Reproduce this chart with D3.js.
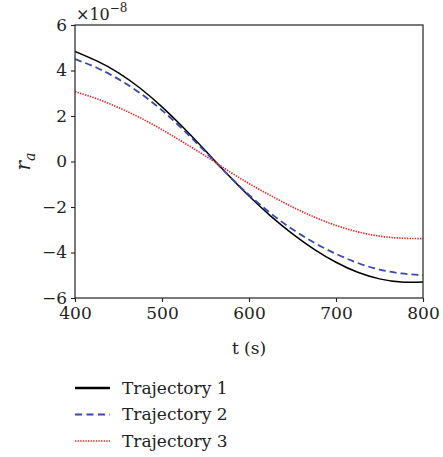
<!DOCTYPE html>
<html>
<head>
<meta charset="utf-8">
<script src="https://cdn.jsdelivr.net/npm/d3@7"></script>
<style>
  body { margin: 0; background: #fff; }
  svg text { fill: #222; }
</style>
</head>
<body>
<div id="chart"></div>
<script>
// time axis (s)
const times = [400, 425, 450, 475, 500, 525, 550, 575, 600, 625, 650, 675, 700, 725, 750, 775, 800];
// r_a values in units of 1e-8
const traj1 = [4.84, 4.42, 3.9, 3.22, 2.4, 1.47, 0.47, -0.55, -1.52, -2.4, -3.18, -3.86, -4.43, -4.87, -5.16, -5.3, -5.3];
const traj2 = [4.5, 4.12, 3.62, 3.0, 2.25, 1.37, 0.42, -0.55, -1.47, -2.28, -2.98, -3.57, -4.06, -4.46, -4.75, -4.92, -4.99];
const traj3 = [3.07, 2.76, 2.37, 1.92, 1.4, 0.83, 0.24, -0.38, -0.97, -1.5, -2.0, -2.44, -2.81, -3.09, -3.28, -3.37, -3.39];
const seriesNames = ['Trajectory 1', 'Trajectory 2', 'Trajectory 3'];
const xTicks = [400, 500, 600, 700, 800];
const yTicks = [-6, -4, -2, 0, 2, 4, 6];

const serif = '"DejaVu Serif", serif';

const config = {
  width: 443, height: 457,
  margin: {top: 25, right: 20, bottom: 159, left: 75}
};

const styles = [
  {color: '#000000', width: 1.5, dash: null, legendWidth: 2.6, legendDash: null},
  {color: '#3a47b3', width: 1.8, dash: '7,4', legendWidth: 2, legendDash: '7,4.5'},
  {color: '#e8231f', width: 1.6, dash: '1.4,1.2', legendWidth: 1.6, legendDash: '1.4,1.2'}
];

const innerW = config.width - config.margin.left - config.margin.right;
const innerH = config.height - config.margin.top - config.margin.bottom;

const svg = d3.select('#chart').append('svg')
    .attr('width', config.width)
    .attr('height', config.height)
    .attr('font-family', serif);

const chart = svg.append('g')
    .attr('transform', `translate(${config.margin.left},${config.margin.top})`);

const x = d3.scaleLinear().domain([400, 800]).range([0, innerW]);
const y = d3.scaleLinear().domain([-6, 6]).range([innerH, 0]);

const series = [traj1, traj2, traj3].map((vals, i) => ({
  name: seriesNames[i],
  values: vals.map((v, j) => ({t: times[j], v: v}))
}));

const line = d3.line()
    .x(d => x(d.t))
    .y(d => y(d.v))
    .curve(d3.curveNatural);

chart.append('defs').append('clipPath').attr('id', 'clip')
  .append('rect').attr('width', innerW).attr('height', innerH);

chart.append('g').attr('clip-path', 'url(#clip)')
  .selectAll('.series')
    .data(series)
  .join('path')
    .attr('class', 'series')
    .attr('fill', 'none')
    .attr('d', d => line(d.values))
    .attr('stroke', (d, i) => styles[i].color)
    .attr('stroke-width', (d, i) => styles[i].width)
    .attr('stroke-dasharray', (d, i) => styles[i].dash);

// axes
const xAxis = chart.append('g')
    .attr('transform', `translate(0,${innerH})`)
    .call(d3.axisBottom(x).tickValues(xTicks).tickSize(4).tickPadding(5).tickFormat(d3.format('d')));
const yAxis = chart.append('g')
    .call(d3.axisLeft(y).tickValues(yTicks).tickSize(4).tickPadding(4).tickFormat(d3.format('d')));

[xAxis, yAxis].forEach(ax => {
  ax.attr('font-family', serif).attr('font-size', 17);
  ax.select('.domain').remove();
  ax.selectAll('line').attr('stroke', '#222').attr('stroke-width', 1.1);
  ax.selectAll('text').attr('fill', '#222');
});
yAxis.selectAll('text').attr('dy', '0.3em');

// frame
chart.append('rect')
    .attr('width', innerW)
    .attr('height', innerH)
    .attr('fill', 'none')
    .attr('stroke', '#222')
    .attr('stroke-width', 1.2);

// exponent label
const expo = svg.append('text')
    .attr('x', config.margin.left + 1)
    .attr('y', 20)
    .attr('font-size', 16);
expo.append('tspan').text('×10');
expo.append('tspan').attr('dy', -8).attr('font-size', 12).text('−8');

// axis titles
const yLab = svg.append('text')
    .attr('transform', `translate(30,${config.margin.top + innerH / 2}) rotate(-90)`)
    .attr('text-anchor', 'middle')
    .attr('font-size', 20)
    .attr('font-style', 'italic');
yLab.append('tspan').text('r');
yLab.append('tspan').attr('dy', 5).attr('font-size', 14).text('a');

svg.append('text')
    .attr('x', config.margin.left + innerW / 2)
    .attr('y', 354)
    .attr('text-anchor', 'middle')
    .attr('font-size', 17)
    .text('t (s)');

// legend
const legend = svg.append('g').attr('transform', 'translate(75,388)');
const rows = legend.selectAll('.legend-row')
    .data(series)
  .join('g')
    .attr('class', 'legend-row')
    .attr('transform', (d, i) => `translate(0,${i * 26.5})`);
rows.append('line')
    .attr('x1', 0).attr('x2', 35)
    .attr('stroke', (d, i) => styles[i].color)
    .attr('stroke-width', (d, i) => styles[i].legendWidth)
    .attr('stroke-dasharray', (d, i) => styles[i].legendDash);
rows.append('text')
    .attr('x', 47)
    .attr('dy', '0.35em')
    .attr('font-size', 17)
    .text(d => d.name);
</script>
</body>
</html>
